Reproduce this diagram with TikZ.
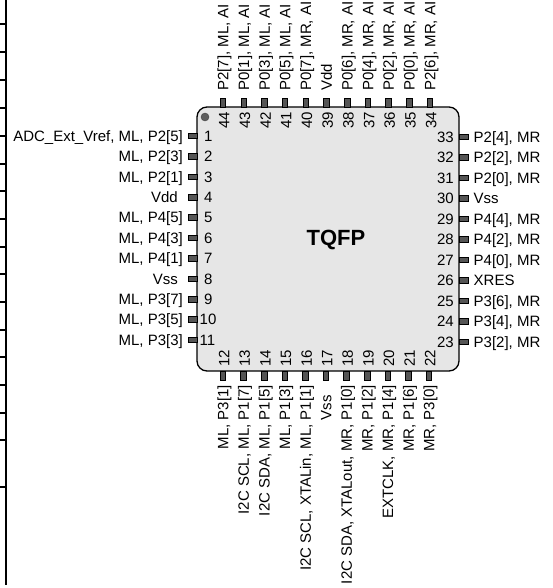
\documentclass[tikz,border=0pt]{standalone}
\usepackage{fontspec}
\setmainfont{Liberation Sans}
\definecolor{bodygray}{HTML}{E6E6E6}
\definecolor{pingray}{HTML}{555555}
\definecolor{dotgray}{HTML}{5E5E5E}
\begin{document}
\begin{tikzpicture}[x=1pt,y=-1pt,
  txt/.style={inner sep=0pt, text height=10.7pt, text depth=0pt, font=\fontsize{15}{17}\selectfont},
  hpin/.style={draw=black, fill=pingray, line width=0.8pt, inner sep=0pt, minimum width=9pt, minimum height=5.5pt},
  vpin/.style={draw=black, fill=pingray, line width=0.8pt, inner sep=0pt, minimum width=5.5pt, minimum height=9pt},
  chip/.style={draw=black, fill=bodygray, line width=1.3pt, rounded corners=10pt, inner sep=0pt, minimum width=262pt, minimum height=264pt},
  edge/.style={line width=2pt}]
\useasboundingbox (0,0) rectangle (552,588);
% left border line with ticks
\coordinate (btop) at (5.5,0);
\coordinate (bbot) at (5.5,585);
\draw[edge] (btop) -- (bbot);
\foreach \ty in {24,52,80,108,136,164,191,219,247,274,302,330,357,385,413,440,487}
  \draw[edge] (0,\ty) -- (5.5,\ty);
% chip body
\node[chip] (body) at (328,239) {};
\node[inner sep=0pt, font=\bfseries\fontsize{22}{26}\selectfont] (title) at (336,240) {TQFP};
\node[circle, fill=dotgray, draw=dotgray!70!black, line width=0.4pt, minimum size=8pt, inner sep=0pt] (dot) at (205,117) {};
% left pins
\foreach \i/\dx/\t in {1/0/{ADC\_Ext\_Vref, ML, P2[5]},2/0/{ML, P2[3]},3/0/{ML, P2[1]},4/5/{Vdd},5/0/{ML, P4[5]},6/0/{ML, P4[3]},7/0/{ML, P4[1]},8/5/{Vss},9/0/{ML, P3[7]},10/0/{ML, P3[5]},11/0/{ML, P3[3]}}{
  \pgfmathsetmacro\yy{136+(\i-1)*20.4}
  \node[hpin] (P\i) at (192.5,\yy) {};
  \node[txt, anchor=east] (T\i) at (183-\dx,\yy) {\t};
  \ifnum\i<10
    \node[txt, anchor=west] (N\i) at (204,\yy) {\i};
  \else
    \node[txt, anchor=west] (N\i) at (199.5,\yy) {\i};
  \fi
}
% bottom pins
\foreach \i/\dy/\t in {12/0/{ML, P3[1]},13/0/{I2C SCL, ML, P1[7]},14/0/{I2C SDA, ML, P1[5]},15/0/{ML, P1[3]},16/0/{I2C SCL, XTALin, ML, P1[1]},17/10/{Vss},18/0/{I2C SDA, XTALout, MR, P1[0]},19/0/{MR, P1[2]},20/0/{EXTCLK, MR, P1[4]},21/0/{MR, P1[6]},22/0/{MR, P3[0]}}{
  \pgfmathsetmacro\xx{223+(\i-12)*20.6}
  \node[vpin] (P\i) at (\xx,376) {};
  \node[txt, anchor=east, rotate=90] (T\i) at (\xx,385+\dy) {\t};
  \node[txt, anchor=west, rotate=90] (N\i) at (\xx+1,367) {\i};
}
% right pins
\foreach \i/\t in {23/{P3[2], MR},24/{P3[4], MR},25/{P3[6], MR},26/{XRES},27/{P4[0], MR},28/{P4[2], MR},29/{P4[4], MR},30/{Vss},31/{P2[0], MR},32/{P2[2], MR},33/{P2[4], MR}}{
  \pgfmathsetmacro\yy{137+(33-\i)*20.5}
  \node[hpin] (P\i) at (463.5,\yy) {};
  \node[txt, anchor=west] (T\i) at (473.5,\yy) {\t};
  \node[txt, anchor=east] (N\i) at (454,\yy) {\i};
}
% top pins
\foreach \i/\t in {34/{P2[6], MR, AI},35/{P0[0], MR, AI},36/{P0[2], MR, AI},37/{P0[4], MR, AI},38/{P0[6], MR, AI},39/{Vdd},40/{P0[7], MR, AI},41/{P0[5], ML, AI},42/{P0[3], ML, AI},43/{P0[1], ML, AI},44/{P2[7], ML, AI}}{
  \pgfmathsetmacro\xx{223+(44-\i)*20.7}
  \node[vpin] (P\i) at (\xx,102.5) {};
  \node[txt, anchor=west, rotate=90] (T\i) at (\xx,91) {\t};
  \node[txt, anchor=west, rotate=90] (N\i) at (\xx+1,129) {\i};
}
\end{tikzpicture}
\end{document}
